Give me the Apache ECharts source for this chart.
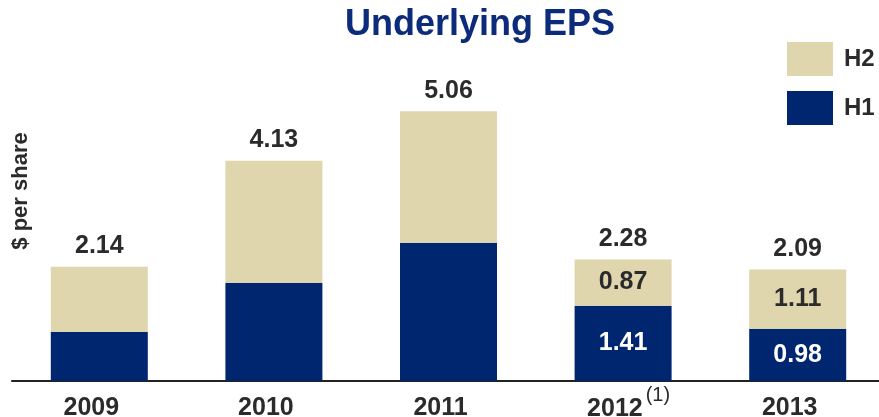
<!DOCTYPE html>
<html>
<head>
<meta charset="utf-8">
<script src="https://cdn.jsdelivr.net/npm/echarts@6/dist/echarts.min.js"></script>
<style>
  html, body { margin: 0; padding: 0; background: #fff; }
  #chart { width: 879px; height: 417px; }
</style>
</head>
<body>
<div id="chart"></div>
<script>
// values
const years = ['2009', '2010', '2011', '2012', '2013'];
const h1 = [0.92, 1.84, 2.59, 1.41, 0.98];
const h2 = [1.22, 2.29, 2.47, 0.87, 1.11];
const totals = [2.14, 4.13, 5.06, 2.28, 2.09];
const showInner = [false, false, false, true, true];
const footnoted = { '2012': '(1)' };

const NAVY = '#00266f';
const TAN = '#dfd6ae';
const INK = '#2b2b2b';
const FONT = 'Liberation Sans, Arial, sans-serif';

const chart = echarts.init(document.getElementById('chart'), null, { renderer: 'canvas' });

const innerLabel = (color) => ({
  show: true,
  position: 'inside',
  color: color,
  fontFamily: FONT,
  fontWeight: 'bold',
  fontSize: 25,
  formatter: p => showInner[p.dataIndex] ? p.value.toFixed(2) : ''
});

const yearStyle = { color: INK, fontFamily: FONT, fontWeight: 'bold', fontSize: 25, padding: [11, 0, 11, 0] };

chart.setOption({
  backgroundColor: '#fff',
  animation: false,
  graphic: [
    {
      type: 'text', x: 480, y: 25,
      style: { text: 'Underlying EPS', fill: '#0c2b7b', font: 'bold 36px ' + FONT,
               textAlign: 'center', textVerticalAlign: 'middle' }
    },
    {
      type: 'text', x: 21, y: 191, rotation: Math.PI / 2,
      style: { text: '$ per share', fill: INK, font: 'bold 22px ' + FONT,
               textAlign: 'center', textVerticalAlign: 'middle' }
    }
  ],
  legend: {
    orient: 'vertical',
    left: 787, top: 42, padding: 0,
    itemWidth: 46, itemHeight: 34, itemGap: 15,
    icon: 'rect',
    data: ['H2', 'H1'],
    formatter: '{n|{name}}',
    textStyle: {
      rich: { n: { color: INK, fontFamily: FONT, fontWeight: 'bold', fontSize: 24, padding: [0, 0, 0, 6] } }
    }
  },
  grid: { left: 12, width: 873, top: 61, bottom: 36, containLabel: false, outerBoundsMode: 'none' },
  xAxis: {
    type: 'category',
    data: years,
    axisTick: { show: false },
    axisLine: { lineStyle: { color: '#222', width: 2 } },
    axisLabel: {
      margin: 4,
      padding: [0, 16, 0, 0],
      formatter: v => footnoted[v] ? '{p|' + v + '}{s|' + footnoted[v] + '}' : '{y|' + v + '}',
      rich: {
        y: yearStyle,
        p: Object.assign({}, yearStyle, { padding: [11, 0, 11, 27] }),
        s: { color: INK, fontFamily: FONT, fontSize: 20, padding: [0, 0, 29, 3] }
      }
    }
  },
  yAxis: { type: 'value', min: 0, max: 6, show: false, splitLine: { show: false } },
  series: [
    {
      name: 'H1', type: 'bar', stack: 'eps', barWidth: 97,
      itemStyle: { color: NAVY },
      label: innerLabel('#ffffff'),
      data: h1
    },
    {
      name: 'H2', type: 'bar', stack: 'eps', barWidth: 97,
      itemStyle: { color: TAN },
      label: innerLabel(INK),
      data: h2
    },
    {
      name: 'total', type: 'scatter', symbolSize: 0, silent: true,
      itemStyle: { opacity: 1 },
      label: {
        show: true, position: 'top', distance: 8,
        color: INK, fontFamily: FONT, fontWeight: 'bold', fontSize: 25,
        formatter: p => p.value.toFixed(2)
      },
      data: totals
    }
  ]
});
</script>
</body>
</html>
